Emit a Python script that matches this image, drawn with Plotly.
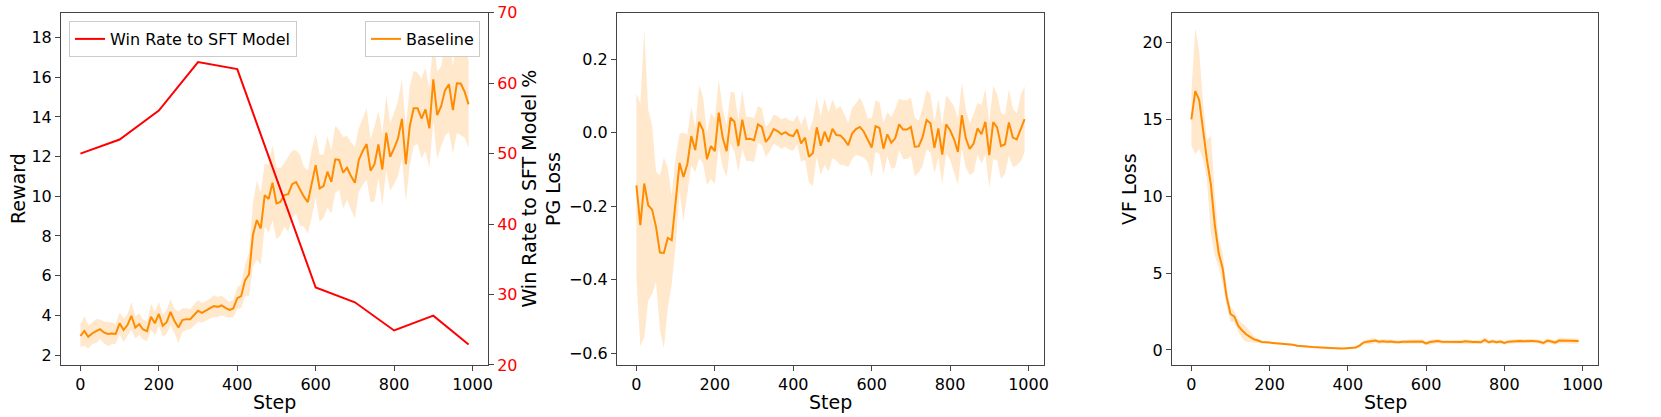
import plotly.graph_objects as go

# training steps (logged every 10 steps)
steps = list(range(0, 1000, 10))

# reward of the baseline run (mean and std over seeds)
reward_mean = [
    2.96, 3.22, 2.92, 3.09, 3.21, 3.31, 3.14, 3.06, 3.09, 3.07,
    3.60, 3.26, 3.51, 3.98, 3.39, 3.56, 3.29, 3.21, 3.93, 3.60,
    4.07, 3.48, 3.66, 4.18, 3.71, 3.39, 3.76, 3.81, 3.81, 4.01,
    4.23, 4.13, 4.23, 4.33, 4.47, 4.43, 4.50, 4.38, 4.28, 4.35,
    4.87, 4.97, 5.78, 6.06, 8.05, 8.80, 8.38, 10.06, 9.86, 10.68,
    9.64, 9.72, 10.06, 10.11, 10.61, 10.72, 10.31, 9.98, 9.71, 10.65,
    11.57, 10.40, 10.51, 11.24, 10.73, 11.86, 11.83, 11.19, 11.44, 11.02,
    10.68, 11.83, 12.28, 12.63, 11.29, 11.62, 12.61, 11.35, 13.20, 11.99,
    12.41, 12.92, 13.90, 11.62, 13.54, 14.43, 14.43, 13.92, 14.38, 13.42,
    15.89, 14.09, 14.54, 15.35, 15.64, 14.34, 15.69, 15.68, 15.26, 14.63,
]
reward_std = [
    0.55, 0.75, 0.60, 0.55, 0.60, 0.50, 0.55, 0.60, 0.55, 0.50,
    0.55, 0.60, 0.55, 0.70, 0.55, 0.55, 0.50, 0.50, 0.65, 0.60,
    0.60, 0.55, 0.60, 0.65, 0.60, 0.80, 0.60, 0.55, 0.50, 0.55,
    0.55, 0.50, 0.50, 0.50, 0.55, 0.50, 0.50, 0.45, 0.40, 0.45,
    0.55, 0.60, 0.80, 1.10, 1.60, 2.00, 1.80, 1.60, 1.70, 1.90,
    1.80, 1.70, 1.60, 1.90, 1.70, 1.60, 1.80, 1.50, 1.60, 1.70,
    1.60, 1.70, 1.60, 1.80, 1.60, 1.70, 1.50, 1.80, 1.60, 1.70,
    1.80, 1.60, 1.70, 1.80, 1.60, 1.90, 1.70, 1.80, 1.90, 1.70,
    1.80, 1.90, 2.00, 1.90, 2.00, 1.90, 1.80, 2.00, 2.10, 2.00,
    2.10, 2.20, 2.00, 2.30, 2.40, 2.20, 2.50, 2.60, 2.30, 2.20,
]

# win rate against the SFT model (%)
win_steps = [0, 100, 200, 300, 400, 600, 700, 800, 900, 990]
win_rate = [50.0, 52.0, 56.1, 63.0, 62.0, 31.0, 28.9, 24.9, 27.0, 22.9]

# policy-gradient loss
pg_mean = [
    -0.143, -0.251, -0.138, -0.197, -0.209, -0.256, -0.326, -0.327, -0.286, -0.292,
    -0.188, -0.082, -0.120, -0.085, -0.009, -0.047, 0.030, 0.007, -0.072, -0.036,
    -0.050, 0.055, -0.013, -0.050, 0.041, 0.030, -0.036, 0.036, -0.017, -0.016,
    -0.020, 0.023, 0.016, -0.025, -0.011, 0.010, 0.005, -0.004, 0.002, -0.006,
    -0.009, 0.009, -0.029, -0.013, -0.065, -0.055, 0.015, -0.035, 0.003, -0.025,
    0.011, -0.006, -0.007, -0.018, -0.034, -0.002, 0.010, 0.016, 0.003, -0.020,
    -0.040, 0.018, 0.013, -0.043, -0.004, -0.027, -0.015, 0.023, 0.009, 0.009,
    0.016, -0.038, -0.037, -0.011, 0.035, 0.026, -0.041, 0.012, -0.059, 0.023,
    0.007, -0.017, -0.052, 0.048, -0.015, -0.044, -0.029, 0.012, -0.004, 0.030,
    -0.061, 0.029, 0.015, -0.036, -0.031, 0.028, -0.013, -0.018, 0.012, 0.037,
]
pg_std = [
    0.25, 0.33, 0.42, 0.26, 0.23, 0.15, 0.21, 0.26, 0.19, 0.12,
    0.12, 0.08, 0.12, 0.08, 0.08, 0.06, 0.10, 0.09, 0.07, 0.09,
    0.09, 0.09, 0.08, 0.07, 0.07, 0.08, 0.07, 0.08, 0.06, 0.06,
    0.06, 0.05, 0.05, 0.04, 0.04, 0.04, 0.04, 0.04, 0.04, 0.04,
    0.04, 0.04, 0.05, 0.06, 0.07, 0.09, 0.08, 0.08, 0.09, 0.08,
    0.08, 0.07, 0.08, 0.07, 0.06, 0.07, 0.07, 0.08, 0.07, 0.06,
    0.08, 0.07, 0.07, 0.07, 0.06, 0.07, 0.08, 0.07, 0.08, 0.08,
    0.08, 0.08, 0.07, 0.08, 0.08, 0.08, 0.07, 0.08, 0.08, 0.08,
    0.08, 0.09, 0.09, 0.09, 0.08, 0.07, 0.08, 0.07, 0.08, 0.09,
    0.09, 0.10, 0.09, 0.09, 0.08, 0.09, 0.08, 0.07, 0.09, 0.09,
]

# value-function loss
vf_mean = [
    15.00, 16.85, 16.27, 14.20, 12.36, 10.74, 8.13, 6.29, 5.31, 3.47,
    2.34, 2.17, 1.56, 1.26, 1.02, 0.85, 0.69, 0.61, 0.52, 0.50,
    0.48, 0.46, 0.44, 0.42, 0.38, 0.35, 0.34, 0.28, 0.25, 0.22,
    0.20, 0.19, 0.18, 0.16, 0.13, 0.11, 0.11, 0.12, 0.10, 0.09,
    0.10, 0.12, 0.16, 0.28, 0.48, 0.54, 0.56, 0.61, 0.53, 0.56,
    0.53, 0.55, 0.52, 0.50, 0.53, 0.54, 0.53, 0.55, 0.54, 0.55,
    0.43, 0.52, 0.55, 0.58, 0.53, 0.52, 0.54, 0.51, 0.53, 0.52,
    0.56, 0.53, 0.51, 0.52, 0.50, 0.65, 0.50, 0.56, 0.50, 0.55,
    0.45, 0.54, 0.56, 0.57, 0.58, 0.56, 0.58, 0.59, 0.56, 0.53,
    0.45, 0.61, 0.55, 0.48, 0.61, 0.60, 0.59, 0.60, 0.58, 0.58,
]
vf_std = [
    1.70, 4.10, 3.20, 1.80, 1.30, 3.20, 2.00, 0.90, 1.00, 0.60,
    0.50, 0.35, 0.40, 0.50, 0.50, 0.35, 0.20, 0.15, 0.10, 0.08,
    0.07, 0.07, 0.07, 0.06, 0.06, 0.06, 0.06, 0.06, 0.05, 0.05,
    0.05, 0.05, 0.05, 0.05, 0.05, 0.05, 0.05, 0.05, 0.05, 0.05,
    0.05, 0.06, 0.08, 0.10, 0.14, 0.16, 0.20, 0.15, 0.14, 0.13,
    0.13, 0.12, 0.13, 0.12, 0.12, 0.13, 0.12, 0.13, 0.12, 0.13,
    0.12, 0.13, 0.14, 0.13, 0.12, 0.12, 0.13, 0.12, 0.12, 0.13,
    0.13, 0.12, 0.12, 0.13, 0.12, 0.20, 0.13, 0.13, 0.12, 0.13,
    0.12, 0.13, 0.14, 0.13, 0.14, 0.13, 0.14, 0.14, 0.13, 0.13,
    0.14, 0.15, 0.14, 0.15, 0.18, 0.17, 0.18, 0.18, 0.17, 0.17,
]

ORANGE = "#ff8c00"
BAND = "rgba(255,140,0,0.2)"
RED = "#ff0000"
FONT = "DejaVu Sans"

W, H = 1661, 417


def fx(px):
    return px / W


def fy(py):
    return 1 - py / H


fig = go.Figure()


def add_run(mean, std, xa, ya, legend=None):
    upper = [m + s for m, s in zip(mean, std)]
    lower = [m - s for m, s in zip(mean, std)]
    fig.add_trace(go.Scatter(
        x=steps + steps[::-1], y=upper + lower[::-1],
        fill="toself", fillcolor=BAND, line=dict(width=0),
        mode="lines", hoverinfo="skip", showlegend=False,
        xaxis=xa, yaxis=ya,
    ))
    fig.add_trace(go.Scatter(
        x=steps, y=mean, mode="lines", name="Baseline",
        line=dict(color=ORANGE, width=2),
        showlegend=legend is not None, legend=legend or "legend",
        xaxis=xa, yaxis=ya,
    ))


add_run(reward_mean, reward_std, "x", "y", legend="legend2")
add_run(pg_mean, pg_std, "x2", "y2")
add_run(vf_mean, vf_std, "x3", "y3")

fig.add_trace(go.Scatter(
    x=win_steps, y=win_rate, mode="lines", name="Win Rate to SFT Model",
    line=dict(color=RED, width=2), legend="legend",
    xaxis="x", yaxis="y4",
))

top, bottom = fy(12.7), fy(365)
panels = [(61, 488), (617, 1044), (1172, 1598)]

axis_common = dict(
    showline=True, linecolor="#444", linewidth=1, mirror=True,
    ticks="outside", ticklen=5, tickwidth=1, tickcolor="#444",
    showgrid=False, zeroline=False,
    tickfont=dict(size=16, color="black", family=FONT),
    ticklabeloverflow="allow",
    automargin=False,
)

layout = dict(
    width=W, height=H,
    margin=dict(l=0, r=0, t=0, b=0),
    paper_bgcolor="white", plot_bgcolor="white",
    font=dict(family=FONT, size=16, color="black"),
)

annotations = []
title_font = dict(size=19, color="black", family=FONT)

for i, (p0, p1) in enumerate(panels, start=1):
    sfx = "" if i == 1 else str(i)
    layout["xaxis" + sfx] = dict(
        axis_common, domain=[fx(p0), fx(p1)], anchor="y" + sfx,
        range=[-49.5, 1039.5], tickvals=[0, 200, 400, 600, 800, 1000],
    )
    annotations.append(dict(
        text="Step", xref="paper", yref="paper",
        x=fx((p0 + p1) / 2), y=fy(402), xanchor="center", yanchor="middle",
        showarrow=False, font=title_font,
    ))

layout["yaxis"] = dict(
    axis_common, domain=[bottom, top], anchor="x",
    range=[1.5, 19.25], tickvals=[2, 4, 6, 8, 10, 12, 14, 16, 18],
)
layout["yaxis2"] = dict(
    axis_common, domain=[bottom, top], anchor="x2",
    range=[-0.632, 0.327], tickvals=[-0.6, -0.4, -0.2, 0.0, 0.2],
    tickformat=".1f",
)
layout["yaxis3"] = dict(
    axis_common, domain=[bottom, top], anchor="x3",
    range=[-0.98, 21.95], tickvals=[0, 5, 10, 15, 20],
)
layout["yaxis4"] = dict(
    axis_common, overlaying="y", side="right", anchor="x",
    range=[19.999, 70.001], tickvals=[20, 30, 40, 50, 60, 70],
    tickfont=dict(size=16, color=RED, family=FONT),
    mirror=False,
)

y_titles = [("Reward", 18), ("Win Rate to SFT Model %", 528.5),
            ("PG Loss", 553), ("VF Loss", 1129)]
for text, px in y_titles:
    annotations.append(dict(
        text=text, xref="paper", yref="paper",
        x=fx(px), y=fy(189), xanchor="center", yanchor="middle",
        textangle=-90, showarrow=False, font=title_font,
    ))

legend_style = dict(
    bgcolor="white", bordercolor="#cccccc", borderwidth=1,
    font=dict(size=16, color="black", family=FONT),
    yanchor="top", y=fy(21),
)
layout["legend"] = dict(legend_style, x=fx(69), xanchor="left")
layout["legend2"] = dict(legend_style, x=fx(480), xanchor="right")
layout["annotations"] = annotations

fig.update_layout(**layout)

# drop the default page margin so the figure fills the window exactly
fig.write_html(
    "out.html",
    config={"displayModeBar": False},
    post_script="document.body.style.margin = '0px';",
)
